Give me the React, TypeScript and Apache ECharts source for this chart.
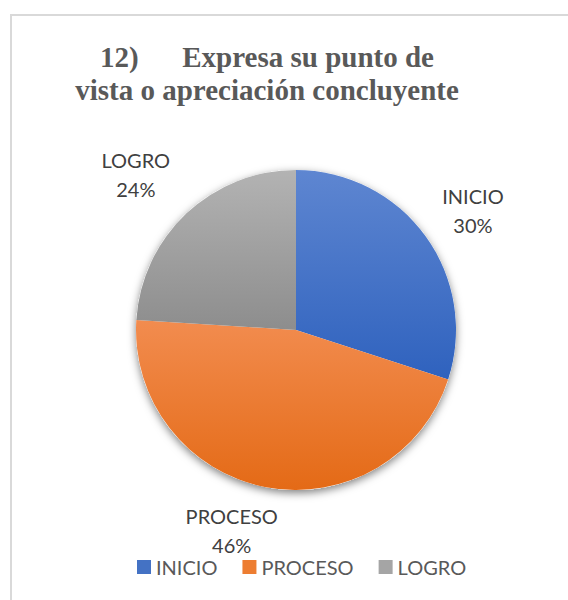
import React, { useEffect, useRef } from "react";
import * as echarts from "echarts";

const categories = ["INICIO", "PROCESO", "LOGRO"];
const values = [30, 46, 24];
const titleLines = ["12)      Expresa su punto de", "vista o apreciación concluyente"];

const CENTER: [number, number] = [296, 330];
const RADIUS = 160;
const LABEL_OFFSET = 55;
const LABEL_NUDGE: [number, number][] = [[3, 7], [-24, -11], [-13, 1]];

const gradients: [string, string][] = [
  ["#5e86d1", "#2f62be"],
  ["#f28c4f", "#e46a16"],
  ["#b3b3b3", "#8d8d8d"],
];
const legendColors = ["#4472c4", "#ed7d31", "#a5a5a5"];

export default function App() {
  const ref = useRef<HTMLDivElement>(null);
  useEffect(() => {
    if (!ref.current) return;
    const chart = echarts.init(ref.current, undefined, { renderer: "svg" });
    const total = values.reduce((a, b) => a + b, 0);
    const cum: number[] = [];
    let acc = 0;
    values.forEach((v) => {
      cum.push(acc);
      acc += v;
    });
    const data = categories.map((name, i) => ({
      name,
      value: values[i],
      itemStyle: {
        color: new echarts.graphic.LinearGradient(0, 0, 0, 1, [
          { offset: 0, color: gradients[i][0] },
          { offset: 1, color: gradients[i][1] },
        ]),
      },
    }));
    chart.setOption({
      animation: false,
      backgroundColor: "#ffffff",
      graphic: [
        {
          type: "rect",
          shape: { x: 11, y: 15, width: 700, height: 700 },
          style: { fill: "none", stroke: "#d9d9d9", lineWidth: 2 },
          z: -1,
        },
        {
          type: "text",
          x: 267,
          y: 40,
          style: {
            text: titleLines.join("\n"),
            font: 'bold 29px "Liberation Serif"',
            fill: "#595959",
            textAlign: "center",
            textVerticalAlign: "top",
            lineHeight: 33,
          },
        },
      ],
      legend: {
        data: categories.map((name, i) => ({ name, itemStyle: { color: legendColors[i] } })),
        left: 137,
        top: 557,
        icon: "rect",
        itemWidth: 14,
        itemHeight: 14,
        itemGap: 25,
        padding: 0,
        textStyle: { fontFamily: "Lato", fontSize: 20, color: "#595959" },
      },
      series: [
        {
          type: "pie",
          name: "shadow",
          silent: true,
          center: CENTER,
          radius: RADIUS,
          label: { show: false },
          labelLine: { show: false },
          itemStyle: {
            color: "#ffffff",
            shadowBlur: 8,
            shadowOffsetY: 3,
            shadowColor: "rgba(0,0,0,0.5)",
          },
          data: [{ name: "__bg", value: 1 }],
          z: 1,
        },
        {
          type: "pie",
          name: "main",
          center: CENTER,
          radius: RADIUS,
          startAngle: 90,
          clockwise: true,
          data,
          z: 2,
          label: {
            show: true,
            position: "outside",
            formatter: "{b}\n{d}%",
            fontFamily: "Lato",
            fontSize: 20,
            lineHeight: 29,
            color: "#404040",
          },
          labelLine: { show: false },
          labelLayout: (params: any) => {
            const i = params.dataIndex;
            const theta = (2 * Math.PI * (cum[i] + values[i] / 2)) / total;
            const d = RADIUS + LABEL_OFFSET;
            return {
              x: CENTER[0] + Math.sin(theta) * d + LABEL_NUDGE[i][0],
              y: CENTER[1] - Math.cos(theta) * d + LABEL_NUDGE[i][1],
              align: "center",
              verticalAlign: "middle",
            };
          },
        },
      ],
    });
    return () => chart.dispose();
  }, []);
  return (
    <div
      ref={ref}
      style={{ position: "fixed", left: 0, top: 0, width: 568, height: 600 }}
    />
  );
}
